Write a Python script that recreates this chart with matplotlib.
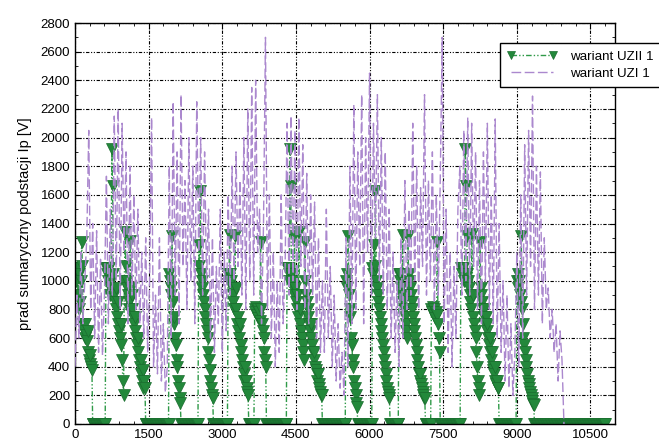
import numpy as np
import matplotlib.pyplot as plt
from matplotlib.ticker import MultipleLocator

plt.rcParams['font.family'] = ['Liberation Sans', 'DejaVu Sans']

# wariant UZII 1 - probki co 15 s
uzii_step = 15
uzii_vals = ([1090, 1090, 1000, 1090, 900, 1050, 800, 850, 1000, 1270, 1100, 700,
              650, 600, 700, 620, 580, 650, 500, 450, 420, 480, 400, 380] + [0] * 18 +
             [1090, 1090, 1050, 1000, 1090, 950, 900, 1000, 1920, 1660, 1050, 900, 850,
              950, 800, 750, 850, 700, 650, 600, 700, 550, 450, 300, 200,
              1000, 1340, 1100, 950, 1000, 900, 850, 800, 1280, 950, 900, 800, 750, 700,
              650, 750, 600, 550, 500, 600, 450, 400, 350, 450, 300, 380, 250, 300, 250] + [0] * 32 +
             [1050, 1000, 900, 950, 1310, 850, 700, 750, 600, 550, 450, 400, 300, 250,
              180, 150] + [0] * 24 +
             [1250, 1100, 1630, 1050, 1000, 950, 900, 850, 800, 750, 700, 650, 600, 500,
              450, 380, 300, 250, 200, 180] + [0] * 20 +
             [1050, 1000, 1320, 1050, 1000, 950, 900, 850, 800, 1310, 950, 800, 700, 750,
              650, 600, 700, 550, 500, 450, 400, 350, 300, 400, 300, 250, 220, 200] + [0] * 8 +
             [800, 780, 820, 760, 800, 740, 780, 720, 1270, 800, 700, 650, 600, 500, 450,
              400] + [0] * 28 +
             [1090, 1090, 1050, 1000, 1920, 1660, 1050, 1000, 950, 900, 1310, 950, 850, 800,
              900, 750, 1340, 800, 700, 650, 600, 550, 500, 450, 1270, 1000, 900, 850, 800,
              750, 700, 650, 700, 600, 550, 500, 450, 500, 400, 380, 350, 300, 350, 280,
              250, 220, 200, 200] + [0] * 32 +
             [1000, 1050, 950, 1310, 900, 800, 750, 600, 550, 450, 400, 300, 250, 200, 150,
              120] + [0] * 20 +
             [1090, 1050, 1250, 1100, 1630, 1000, 950, 900, 850, 800, 750, 700, 650, 600,
              550, 500, 450, 400, 350, 300, 250, 220, 200, 180] + [0] * 12 +
             [1050, 1000, 1050, 950, 900, 1320, 850, 800, 750, 700, 650, 600, 1310, 1050,
              1000, 950, 900, 850, 800, 750, 700, 650, 600, 550, 500, 450, 400, 350, 300,
              350, 280, 250, 220, 200, 180, 180] + [0] * 8 +
             [800, 780, 820, 760, 800, 740, 780, 760, 1270, 700, 600, 500] + [0] * 28 +
             [1090, 1090, 1050, 1090, 1000, 1050, 1920, 1660, 1310, 1050, 1000, 950, 900,
              850, 800, 1330, 900, 750, 700, 650, 600, 500, 400, 300, 250, 200, 1270, 950,
              900, 850, 800, 750, 800, 700, 750, 650, 700, 600, 550, 600, 500, 450, 500,
              400, 380, 350, 400, 300, 280, 300, 250, 250] + [0] * 24 +
             [1000, 1050, 950, 1000, 900, 850, 1310, 800, 700, 600, 550, 500, 450, 400, 350,
              300, 280, 250, 220, 200, 180, 160, 140, 130] + [0] * 97)

# wariant UZI 1 - probki co 40 s
uzi_step = 40
uzi_vals = [400, 900, 600, 1200, 700, 1000, 1300, 2050, 800, 1400,
            600, 1350, 500, 1150, 480, 900, 1730, 700, 1500, 900,
            2150, 1000, 2200, 800, 2100, 1200, 1900, 700, 1800, 900,
            1600, 800, 1500, 700, 1200, 600, 1300, 500, 1000, 2140,
            400, 900, 350, 1300, 300, 700, 220, 400, 1800, 600,
            2250, 900, 1900, 700, 2300, 1100, 1700, 800, 2000, 1000,
            1800, 700, 2250, 1200, 2000, 900, 1900, 1000, 1500, 600,
            1300, 500, 1100, 700, 1500, 500, 1200, 650, 1600, 900,
            1800, 1000, 1900, 1100, 1700, 900, 2000, 800, 2200, 1000,
            2350, 900, 2400, 1200, 1500, 700, 1400, 2700, 800, 1600,
            600, 1200, 400, 1000, 500, 1600, 700, 1100, 2100, 900,
            2150, 1000, 2050, 800, 2140, 1100, 1950, 800, 1750, 700,
            1600, 900, 1550, 600, 1300, 500, 1000, 500, 1500, 600,
            1100, 400, 900, 300, 700, 250, 500, 200, 1300, 400,
            1800, 700, 2230, 800, 1900, 1100, 2300, 700, 2000, 1200,
            2450, 900, 2100, 1300, 2300, 1000, 2000, 900, 1900, 800,
            1500, 600, 1200, 500, 1000, 400, 1300, 600, 1700, 800,
            1500, 900, 2100, 1000, 1800, 800, 1650, 1100, 2300, 900,
            1700, 1000, 1900, 800, 1600, 900, 1700, 2700, 700, 1500,
            500, 1200, 400, 1100, 600, 1500, 1800, 900, 2050, 1000,
            2140, 900, 2100, 1100, 1900, 800, 1700, 700, 1900, 1000,
            2100, 800, 1600, 700, 2130, 600, 1400, 500, 1000, 300,
            900, 250, 700, 200, 500, 1200, 400, 1600, 600, 1950,
            900, 2050, 1100, 2290, 800, 1800, 900, 1760, 700, 1300,
            800, 950, 600, 800, 500, 700, 300, 650, 450, 0]

uzii_t = np.arange(len(uzii_vals)) * uzii_step
uzi_t = np.arange(len(uzi_vals)) * uzi_step

fig = plt.figure(figsize=(6.59, 4.43), dpi=100)
ax = fig.add_axes([75 / 659, 19 / 443, 540 / 659, 401 / 443])

l_uzii, = ax.plot(uzii_t, uzii_vals, color='#2f9a48', lw=1.0,
                  dashes=(4, 1.5, 1, 1.5, 1, 1.5), marker='v', markersize=8.5,
                  markerfacecolor='#23883b', markeredgecolor='#1a6d2e',
                  markeredgewidth=0.5, zorder=2, label='wariant UZII 1')
l_uzi, = ax.plot(uzi_t, uzi_vals, color='#ab88ce', lw=1.0,
                 dashes=(7, 2.5), zorder=3, label='wariant UZI 1')

ax.set_xlim(0, 11000)
ax.set_ylim(0, 2800)
ax.xaxis.set_major_locator(MultipleLocator(1500))
ax.xaxis.set_minor_locator(MultipleLocator(300))
ax.yaxis.set_major_locator(MultipleLocator(200))
ax.yaxis.set_minor_locator(MultipleLocator(100))
ax.tick_params(which='both', direction='in', top=True, right=True,
               labelsize=9.5, colors='black')
ax.tick_params(which='major', length=4)
ax.tick_params(which='minor', length=2)
ax.grid(True, which='major', color='black', lw=0.8,
        linestyle=(0, (3, 1.5, 1, 1.5, 1, 1.5)))
for s in ax.spines.values():
    s.set_linewidth(1.0)

ax.set_ylabel('prad sumaryczny podstacji Ip [V]', fontsize=10.5, labelpad=6)

leg = ax.legend(handles=[l_uzii, l_uzi], loc='upper left',
                bbox_to_anchor=(500 / 659, 1 - 43 / 443),
                bbox_transform=fig.transFigure, fontsize=9.6,
                frameon=True, fancybox=False, framealpha=1,
                edgecolor='black', numpoints=2, handlelength=3.7,
                borderpad=0.55, labelspacing=0.35, handletextpad=1.0,
                borderaxespad=0, markerscale=0.6)
leg.get_frame().set_linewidth(1.0)
leg.set_zorder(5)

fig.savefig('out.png', dpi=100)
